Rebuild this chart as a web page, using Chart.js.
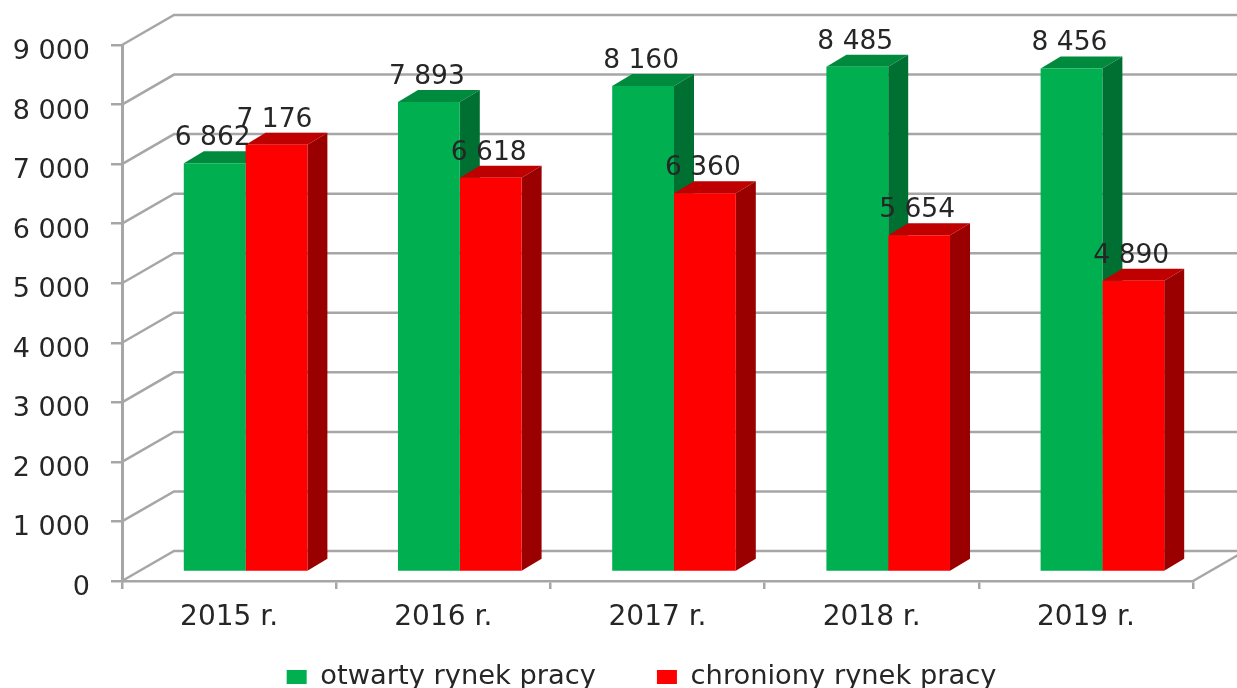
<!DOCTYPE html>
<html><head><meta charset="utf-8">
<style>html,body{margin:0;padding:0;background:#fff;width:1237px;height:688px;overflow:hidden}
canvas{display:block;filter:blur(0.6px)}</style>
<script src="https://cdn.jsdelivr.net/npm/chart.js@4"></script></head>
<body><canvas id="c" width="1237" height="688"></canvas>
<script>
const categories = ["2015 r.", "2016 r.", "2017 r.", "2018 r.", "2019 r."];
const otwarty = [6862, 7893, 8160, 8485, 8456];
const chroniony = [7176, 6618, 6360, 5654, 4890];
const seriesNames = ["otwarty rynek pracy", "chroniony rynek pracy"];
const seriesColors = ["#00B050", "#FF0000"];
const topColors = ["#008A3E", "#BE0000"];
const sideColors = ["#007032", "#9A0000"];
const FONT = "'DejaVu Sans'";
const TEXT = "#262626", LINE = "#A6A6A6";
const LEGEND_SIZE = 27.3, LEGEND_PAD = 61, LEGEND_SHIFT = 45;
const fmt = v => String(v).replace(/\B(?=(\d{3})+$)/, " ");
const WALL = {dx: 52, dy: -30}, BAR = {dx: 16.5, dy: -9}, DEPTH = {dx: 20, dy: -12};

const threeD = {
  id: "threeD",
  afterLayout(chart) {
    chart.scales.x.bottom = 650;
    const lg = chart.legend;
    lg.top = 677 - LEGEND_PAD - LEGEND_SIZE / 2;
    lg.left += LEGEND_SHIFT; lg.right += LEGEND_SHIFT;
  },
  beforeDatasetsDraw(chart) {
    const {ctx, scales: {x, y}} = chart;
    ctx.save();
    ctx.strokeStyle = LINE; ctx.lineWidth = 2.5;
    for (const t of y.ticks) {
      const py = y.getPixelForValue(t.value);
      ctx.beginPath();
      ctx.moveTo(x.left, py);
      ctx.lineTo(x.left + WALL.dx, py + WALL.dy);
      ctx.lineTo(1237, py + WALL.dy);
      ctx.stroke();
    }
    const b = y.getPixelForValue(0);
    ctx.beginPath();
    ctx.moveTo(x.right, b);
    ctx.lineTo(x.right + 45, b + WALL.dy * 45 / 52);
    ctx.stroke();
    ctx.restore();
    ctx.save();
    ctx.translate(BAR.dx, BAR.dy);
    chart.data.datasets.forEach((ds, i) => {
      chart.getDatasetMeta(i).data.forEach(bar => {
        const l = bar.x - bar.width / 2, r = bar.x + bar.width / 2, t = bar.y, bt = bar.base;
        ctx.fillStyle = topColors[i];
        ctx.beginPath();
        ctx.moveTo(l, t); ctx.lineTo(l + DEPTH.dx, t + DEPTH.dy);
        ctx.lineTo(r + DEPTH.dx, t + DEPTH.dy); ctx.lineTo(r, t); ctx.fill();
        ctx.fillStyle = sideColors[i];
        ctx.beginPath();
        ctx.moveTo(r, t); ctx.lineTo(r + DEPTH.dx, t + DEPTH.dy);
        ctx.lineTo(r + DEPTH.dx, bt + DEPTH.dy); ctx.lineTo(r, bt); ctx.fill();
      });
    });
  },
  afterDatasetsDraw(chart) {
    const {ctx} = chart;
    ctx.restore();
    ctx.save();
    ctx.font = "26.5px " + FONT;
    ctx.fillStyle = TEXT;
    ctx.textAlign = "center";
    ctx.textBaseline = "alphabetic";
    chart.data.datasets.forEach((ds, i) => {
      chart.getDatasetMeta(i).data.forEach((bar, j) => {
        ctx.fillText(fmt(ds.data[j]), bar.x + BAR.dx - 2, bar.y + BAR.dy - 18);
      });
    });
    ctx.restore();
  }
};

new Chart(document.getElementById("c"), {
  type: "bar",
  data: {
    labels: categories,
    datasets: [
      {label: seriesNames[0], data: otwarty, backgroundColor: seriesColors[0]},
      {label: seriesNames[1], data: chroniony, backgroundColor: seriesColors[1]}
    ]
  },
  plugins: [threeD],
  options: {
    responsive: false, animation: false,
    layout: {padding: {top: 45, right: 44, left: 0, bottom: 0}},
    barPercentage: 1, categoryPercentage: 0.577,
    scales: {
      x: {
        afterFit(s) { s.height = 28; },
        border: {color: LINE, width: 2.5},
        grid: {drawOnChartArea: false, color: LINE, lineWidth: 2.5, tickLength: 8},
        ticks: {color: TEXT, font: {family: FONT, size: 28}, padding: 12, maxRotation: 0}
      },
      y: {
        min: 0, max: 9000,
        afterFit(s) { s.width = 122; },
        border: {color: LINE, width: 3},
        grid: {drawOnChartArea: false, color: LINE, lineWidth: 2.5, tickLength: 11},
        ticks: {stepSize: 1000, color: TEXT, font: {family: FONT, size: 27}, padding: 21, labelOffset: 7, callback: v => fmt(v)}
      }
    },
    plugins: {
      tooltip: {enabled: false},
      legend: {
        position: "bottom",
        maxHeight: 79,
        labels: {color: TEXT, font: {family: FONT, size: LEGEND_SIZE}, boxWidth: 20, boxHeight: 14, padding: LEGEND_PAD}
      }
    }
  }
});
</script></body></html>
